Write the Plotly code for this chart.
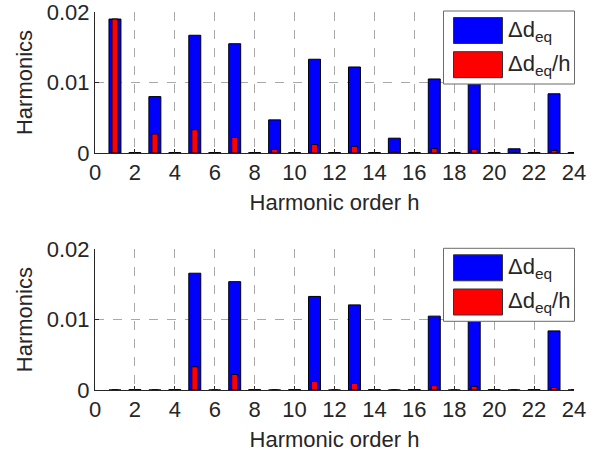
import plotly.graph_objects as go
from plotly.subplots import make_subplots

# ---------------- data ----------------
harmonic_order = list(range(1, 25))

# top panel: Δd_eq and Δd_eq/h
top_delta_d = [0.0190, 0.00005, 0.0080, 0.00005, 0.0167, 0.00005, 0.0155, 0.00005,
               0.0047, 0.00005, 0.0133, 0.00005, 0.0122, 0.00005, 0.0021, 0.00005,
               0.0105, 0.00005, 0.0098, 0.00005, 0.0006, 0.00005, 0.0084, 0.00005]
top_delta_d_h = [0.0190, 0.00003, 0.0027, 0.00003, 0.0033, 0.00003, 0.0022, 0.00003,
                 0.00052, 0.00003, 0.0012, 0.00003, 0.00094, 0.00003, 0.00014, 0.00003,
                 0.00062, 0.00003, 0.00052, 0.00003, 0.00003, 0.00003, 0.00037, 0.00003]

# bottom panel
bot_delta_d = [0.0, 0.00005, 0.0, 0.00005, 0.0166, 0.0, 0.0154, 0.00005,
               0.0, 0.00005, 0.0133, 0.0, 0.0121, 0.00005, 0.0, 0.00005,
               0.0105, 0.0, 0.0098, 0.00005, 0.0, 0.00005, 0.0084, 0.0]
bot_delta_d_h = [0.0, 0.00003, 0.0, 0.00003, 0.0033, 0.0, 0.0022, 0.00003,
                 0.0, 0.00003, 0.0012, 0.0, 0.00093, 0.00003, 0.0, 0.00003,
                 0.00062, 0.0, 0.00052, 0.00003, 0.0, 0.00003, 0.00036, 0.0]

legend_names = ["Δd<sub>eq</sub>", "Δd<sub>eq</sub>/h"]
x_ticks = list(range(0, 25, 2))
y_ticks = [0, 0.01, 0.02]
y_tick_text = ["0", "0.01", "0.02"]
x_title = "Harmonic order h"
y_title = "Harmonics"

# ---------------- figure ----------------
W, H = 605, 461
L, R, T, B = 95, 31, 12, 71
FONT = "Liberation Sans, Arial, Helvetica, sans-serif"
TXT = "#262626"
GRID = "#a9a9a9"
FS = 22

fig = make_subplots(rows=2, cols=1, vertical_spacing=0.0)

panels = [(top_delta_d, top_delta_d_h), (bot_delta_d, bot_delta_d_h)]
for i, (blue, red) in enumerate(panels, start=1):
    fig.add_trace(go.Bar(x=harmonic_order, y=blue, width=0.6, name=legend_names[0],
                         marker=dict(color="#0000ff", line=dict(color="#000000", width=1)),
                         showlegend=False), row=i, col=1)
    fig.add_trace(go.Bar(x=harmonic_order, y=red, width=0.3, name=legend_names[1],
                         marker=dict(color="#ff0000", line=dict(color="#000000", width=1)),
                         showlegend=False), row=i, col=1)

plot_w = W - L - R
plot_h = H - T - B
top_dom = [(390 - 153) / plot_h, 1.0]
bot_dom = [0.0, (390 - 249.3) / plot_h]

axis_common = dict(
    showline=True, linecolor=TXT, linewidth=1, mirror=False,
    ticks="inside", ticklen=4, tickcolor=TXT,
    showgrid=True, gridcolor=GRID, griddash="dash", gridwidth=1,
    zeroline=False, ticklabeloverflow="allow",
    tickfont=dict(family=FONT, size=FS, color=TXT),
)

for i, dom in [(1, top_dom), (2, bot_dom)]:
    fig.update_xaxes(range=[0, 24], tickvals=x_ticks,
                     title=dict(text=x_title, font=dict(family=FONT, size=FS, color=TXT), standoff=10),
                     row=i, col=1, **axis_common)
    fig.update_yaxes(range=[0, 0.02], tickvals=y_ticks, ticktext=y_tick_text, domain=dom,
                     title=dict(text=y_title, font=dict(family=FONT, size=FS, color=TXT), standoff=8),
                     row=i, col=1, **axis_common)

fig.update_layout(barmode="overlay", width=W, height=H,
                  margin=dict(l=L, r=R, t=T, b=B, autoexpand=False),
                  paper_bgcolor="white", plot_bgcolor="white",
                  font=dict(family=FONT, color=TXT))

# manual MATLAB-style legend boxes
def px(xp):
    return (xp - L) / plot_w

def py(yp):
    return (H - B - yp) / plot_h

for off in [0, 237.3]:
    fig.add_shape(type="rect", xref="paper", yref="paper",
                  x0=px(443.5), x1=px(574.5), y0=py(11 + off), y1=py(84 + off),
                  line=dict(color="#6b6b6b", width=1), fillcolor="white", layer="above")
    for k, (col, y0) in enumerate([("#0000ff", 17.5), ("#ff0000", 51.7)]):
        fig.add_shape(type="rect", xref="paper", yref="paper",
                      x0=px(453.5), x1=px(502.5), y0=py(y0 + off), y1=py(y0 + 26 + off),
                      line=dict(color="#333333", width=1), fillcolor=col, layer="above")
        fig.add_annotation(xref="paper", yref="paper", x=px(506), y=py(y0 + 13 + off),
                           text=legend_names[k], showarrow=False, xanchor="left", yanchor="middle",
                           font=dict(family=FONT, size=FS, color=TXT))

fig.write_html("out.html", config={"displayModeBar": False},
               post_script="document.body.style.margin='0px';")
